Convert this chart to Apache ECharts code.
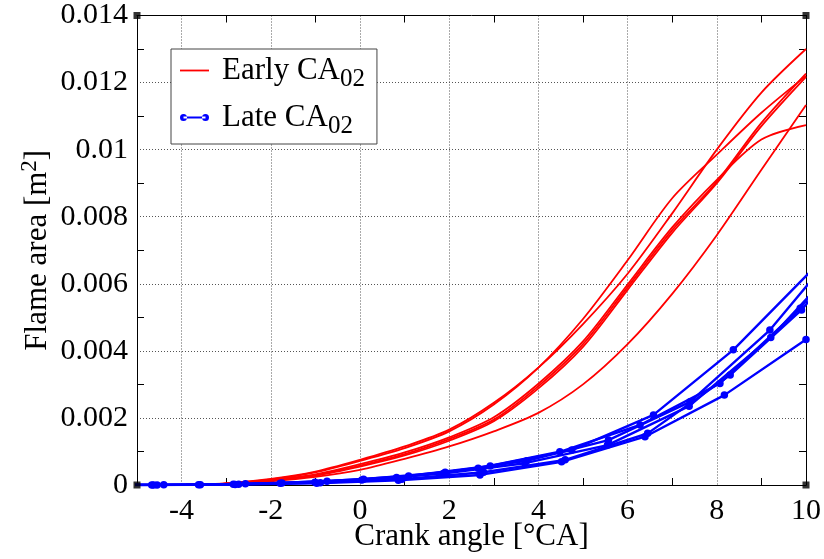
<!DOCTYPE html>
<html><head><meta charset="utf-8">
<script src="https://cdn.jsdelivr.net/npm/echarts@6/dist/echarts.min.js"></script>
<style>html,body{margin:0;padding:0;background:#fff;}#chart{width:824px;height:559px;}</style>
</head><body><div id="chart"></div>
<script>
// Axis limits and tick values
const X_MIN = -5, X_MAX = 10, Y_MIN = 0, Y_MAX = 0.014;
const xLabelTicks = [-4, -2, 0, 2, 4, 6, 8, 10];
const xMinorTicks = [-3, -1, 1, 3, 5, 7, 9];

// Early CA02 curves (red), crank angle [°CA] vs flame area [m^2]
const redX = [-3.9, -3, -2, -1, 0, 1, 2, 3, 4, 5, 6, 7, 8, 9, 10];
const early1 = [0.00001, 0.00005, 0.00018, 0.00040, 0.00075, 0.00115, 0.00165, 0.00245, 0.00350, 0.00480, 0.00630, 0.00810, 0.01000, 0.01170, 0.01300];
const early2 = [0.00001, 0.00005, 0.00017, 0.00038, 0.00072, 0.00110, 0.00160, 0.00240, 0.00350, 0.00495, 0.00670, 0.00855, 0.00985, 0.01110, 0.01220];
const early3 = [0.00001, 0.00004, 0.00014, 0.00030, 0.00058, 0.00092, 0.00137, 0.00195, 0.00295, 0.00420, 0.00590, 0.00760, 0.00905, 0.01080, 0.01227];
const early4 = [0.00001, 0.00004, 0.00013, 0.00028, 0.00055, 0.00088, 0.00132, 0.00190, 0.00288, 0.00412, 0.00582, 0.00752, 0.00900, 0.01070, 0.01217];
const early5 = [0.00001, 0.00004, 0.00015, 0.00032, 0.00062, 0.00097, 0.00142, 0.00202, 0.00302, 0.00428, 0.00598, 0.00768, 0.00910, 0.01030, 0.01073];
const early6 = [0.00001, 0.00003, 0.00011, 0.00024, 0.00045, 0.00078, 0.00115, 0.00160, 0.00215, 0.00300, 0.00420, 0.00570, 0.00745, 0.00940, 0.01133];

// Late CA02 curves (blue, with sample markers)
const late1X = [-6.23, -4.40, -2.57, -0.74, 1.09, 2.92, 4.75, 6.58, 8.37, 10.16];
const late1Y = [0, 0.000005, 0.000035, 0.00011, 0.00027, 0.00057, 0.00104, 0.00209, 0.00403, 0.00645];
const late2X = [-5.41, -3.58, -1.75, 0.08, 1.91, 3.74, 5.57, 7.40, 9.19, 11.00];
const late2Y = [0, 0.00001, 0.00006, 0.00017, 0.00038, 0.00072, 0.00134, 0.00248, 0.00462, 0.00750];
const late3X = [-5.45, -3.62, -1.79, 0.04, 1.87, 3.70, 5.55, 7.38, 9.21, 11.02];
const late3Y = [0, 0.00001, 0.00005, 0.00015, 0.00034, 0.00065, 0.00119, 0.00235, 0.00440, 0.00700];
const late4X = [-6.50, -4.67, -2.84, -1.01, 0.82, 2.65, 4.48, 6.28, 8.07, 9.87, 11.67];
const late4Y = [0, 0.000002, 0.00002, 0.00008, 0.00022, 0.00050, 0.00099, 0.00179, 0.00303, 0.00527, 0.00830];
const late5X = [-6.38, -4.55, -2.72, -0.89, 0.94, 2.77, 4.60, 6.45, 8.30, 9.90, 11.50];
const late5Y = [0, 0.000002, 0.00002, 0.00007, 0.00017, 0.00038, 0.00075, 0.00154, 0.00328, 0.00522, 0.00780];
const late6X = [-6.46, -4.63, -2.80, -0.97, 0.86, 2.69, 4.52, 6.39, 8.17, 10.00];
const late6Y = [0, 0.000001, 0.000015, 0.00005, 0.00014, 0.00030, 0.00069, 0.00144, 0.00268, 0.00434];

const EARLY = 'Early CA02', LATE = 'Late CA02';
const FONT = 'Liberation Serif, DejaVu Serif, serif';
const RED = '#ff0000', BLUE = '#0000ff';

const zip = (xs, ys) => xs.map((x, i) => [x, ys[i]]);
const redSeries = [early1, early2, early3, early4, early5, early6].map(ys => ({
  name: EARLY, type: 'line', data: zip(redX, ys), smooth: 0.3, showSymbol: false, symbol: 'none',
  lineStyle: { color: RED, width: 1.8 }, itemStyle: { color: RED }, clip: true, z: 3
}));
const blueSeries = [[late1X, late1Y], [late2X, late2Y], [late3X, late3Y], [late4X, late4Y], [late5X, late5Y], [late6X, late6Y]].map(([xs, ys]) => ({
  name: LATE, type: 'line', data: zip(xs, ys), smooth: false, symbol: 'circle', symbolSize: 7.5, showSymbol: true,
  lineStyle: { color: BLUE, width: 2.4 }, itemStyle: { color: BLUE }, clip: true, z: 4
}));
const cornerSeries = {
  type: 'scatter', data: [[X_MIN, Y_MIN], [X_MAX, Y_MIN], [X_MAX, Y_MAX], [X_MIN, Y_MAX]],
  symbol: 'rect', symbolSize: 7, itemStyle: { color: '#000' }, clip: false, silent: true, z: 10
};

const tickLine = { color: '#000', width: 1 };
const axisLineStyle = { show: true, onZero: false, lineStyle: { color: '#000', width: 1 } };
const gridLine = { show: true, lineStyle: { color: '#555', type: [1, 2], width: 1 } };
const labelStyle = { color: '#000', fontFamily: FONT, fontSize: 30 };

const chart = echarts.init(document.getElementById('chart'), null, { renderer: 'canvas' });
chart.setOption({
  animation: false,
  backgroundColor: '#fff',
  grid: { left: 137, right: 18, top: 15.5, bottom: 74, containLabel: false, outerBoundsMode: 'none' },
  legend: {
    orient: 'vertical', left: 171, top: 49, padding: [6, 12, 5, 9], itemGap: 10,
    itemWidth: 29, itemHeight: 7,
    backgroundColor: '#fff', borderColor: '#444', borderWidth: 1, borderRadius: 0,
    data: [
      { name: EARLY, icon: 'path://M0,2.6h29v1.8h-29Z' },
      { name: LATE, icon: 'path://M0,3.5a3.5,3.5 0 1,0 7,0a3.5,3.5 0 1,0 -7,0ZM3.5,2.5h22v2h-22ZM22,3.5a3.5,3.5 0 1,0 7,0a3.5,3.5 0 1,0 -7,0Z' }
    ],
    formatter: name => name === EARLY ? '{a|Early CA}{s|02}' : '{a|Late CA}{s|02}',
    textStyle: {
      color: '#000', fontFamily: FONT,
      rich: {
        a: { fontFamily: FONT, fontSize: 31, color: '#000', padding: [0, 0, 0, 8] },
        s: { fontFamily: FONT, fontSize: 25, color: '#000', padding: [18, 0, 0, 0] }
      }
    }
  },
  xAxis: [
    {
      type: 'value', position: 'bottom', min: X_MIN, max: X_MAX, minInterval: 2, maxInterval: 2,
      axisLine: axisLineStyle,
      axisTick: { show: false, customValues: xLabelTicks },
      axisLabel: { ...labelStyle, customValues: xLabelTicks, margin: 11, formatter: v => String(v) },
      splitLine: gridLine,
      name: 'Crank angle [°CA]', nameLocation: 'middle', nameGap: 36, nameMoveOverlap: false,
      nameTextStyle: { color: '#000', fontFamily: FONT, fontSize: 31 }
    },
    {
      type: 'value', position: 'bottom', min: X_MIN, max: X_MAX,
      axisLine: { show: false, onZero: false },
      axisTick: { show: true, inside: true, length: 7, customValues: xMinorTicks, lineStyle: tickLine },
      axisLabel: { show: false }, splitLine: { show: false }
    },
    {
      type: 'value', position: 'top', min: X_MIN, max: X_MAX,
      axisLine: axisLineStyle,
      axisTick: { show: true, inside: true, length: 7, customValues: xMinorTicks, lineStyle: tickLine },
      axisLabel: { show: false }, splitLine: { show: false }
    }
  ],
  yAxis: [
    {
      type: 'value', position: 'left', min: Y_MIN, max: Y_MAX, interval: 0.002,
      axisLine: axisLineStyle,
      axisTick: { show: false, inside: true },
      minorTick: { show: true, splitNumber: 2, length: 7, lineStyle: tickLine },
      axisLabel: { ...labelStyle, margin: 9 },
      splitLine: gridLine,
      name: '{a|Flame area [m}{p|2}{a|]}', nameLocation: 'middle', nameGap: 80, nameRotate: 90, nameMoveOverlap: false,
      nameTextStyle: {
        color: '#000', fontFamily: FONT, fontSize: 31,
        rich: {
          a: { fontFamily: FONT, fontSize: 31, color: '#000' },
          p: { fontFamily: FONT, fontSize: 23, color: '#000', padding: [0, 0, 16, 0] }
        }
      }
    },
    {
      type: 'value', position: 'right', min: Y_MIN, max: Y_MAX, interval: 0.002,
      axisLine: axisLineStyle,
      axisTick: { show: false, inside: true },
      minorTick: { show: true, splitNumber: 2, length: 7, lineStyle: tickLine },
      axisLabel: { show: false }, splitLine: { show: false }
    }
  ],
  series: [...redSeries, ...blueSeries, cornerSeries]
});
</script></body></html>
